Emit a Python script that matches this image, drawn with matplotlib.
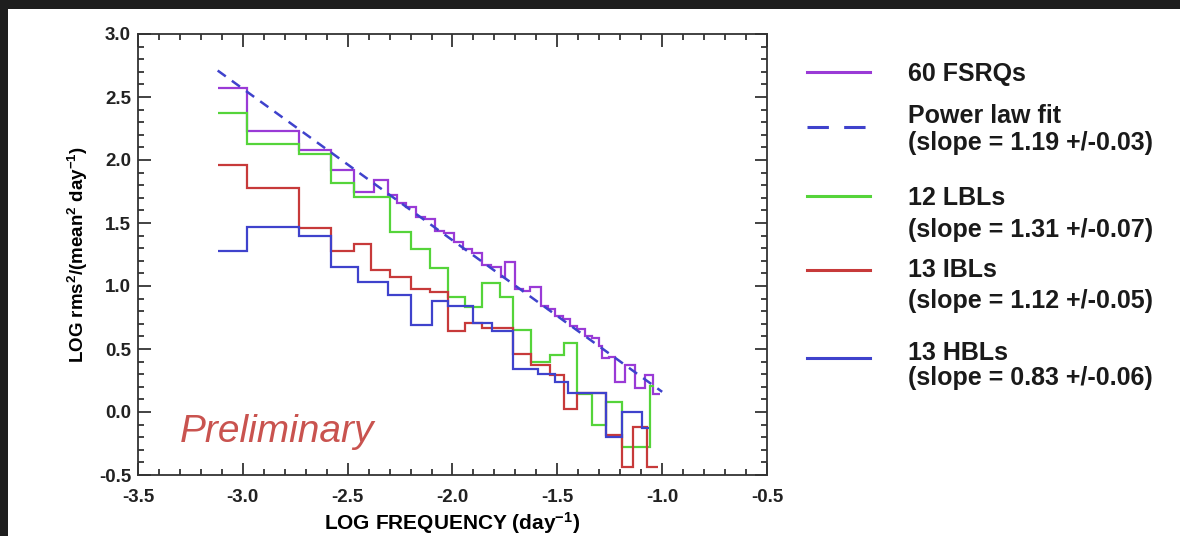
import matplotlib
matplotlib.use('Agg')
import matplotlib.pyplot as plt
from matplotlib.lines import Line2D
from matplotlib.patches import Rectangle
from matplotlib.ticker import MultipleLocator

plt.rcParams['font.family'] = ['Liberation Sans', 'DejaVu Sans']
plt.rcParams['mathtext.default'] = 'regular'

# step data: bin edges (log frequency) and log rms^2/mean^2 per bin
fsrq_edges = [-3.12, -2.98, -2.73, -2.58, -2.47, -2.375, -2.31, -2.265, -2.22, -2.175,
              -2.13, -2.085, -2.04, -1.995, -1.95, -1.905, -1.86, -1.815, -1.77, -1.75,
              -1.70, -1.665, -1.63, -1.58, -1.545, -1.51, -1.475, -1.44, -1.405, -1.37,
              -1.335, -1.30, -1.285, -1.255, -1.225, -1.175, -1.13, -1.08, -1.045, -1.01]
fsrq_vals = [2.57, 2.23, 2.08, 1.92, 1.75, 1.84, 1.72, 1.66, 1.63, 1.55,
             1.53, 1.44, 1.42, 1.35, 1.29, 1.26, 1.17, 1.15, 1.07, 1.19,
             0.98, 0.96, 0.99, 0.84, 0.82, 0.76, 0.74, 0.68, 0.66, 0.60,
             0.59, 0.52, 0.43, 0.44, 0.24, 0.37, 0.19, 0.29, 0.14]

lbl_edges = [-3.12, -2.98, -2.73, -2.58, -2.47, -2.30, -2.20, -2.105, -2.02, -1.94, -1.86,
             -1.775, -1.71, -1.625, -1.535, -1.47, -1.405, -1.335, -1.27, -1.19, -1.06, -1.04]
lbl_vals = [2.37, 2.13, 2.05, 1.82, 1.71, 1.43, 1.29, 1.14, 0.91, 0.83, 1.02,
            0.91, 0.65, 0.40, 0.45, 0.55, 0.14, -0.10, 0.08, -0.28, 0.21]

ibl_edges = [-3.12, -2.98, -2.73, -2.58, -2.47, -2.39, -2.30, -2.20, -2.105, -2.02, -1.94,
             -1.86, -1.71, -1.625, -1.535, -1.47, -1.405, -1.27, -1.19, -1.14, -1.07, -1.02]
ibl_vals = [1.96, 1.78, 1.46, 1.28, 1.33, 1.13, 1.07, 0.98, 0.95, 0.64, 0.71,
            0.67, 0.46, 0.37, 0.29, 0.02, 0.15, -0.18, -0.44, -0.12, -0.44]

hbl_edges = [-3.12, -2.98, -2.73, -2.58, -2.45, -2.31, -2.20, -2.10, -2.02, -1.90,
             -1.81, -1.71, -1.59, -1.51, -1.45, -1.27, -1.19, -1.095, -1.065]
hbl_vals = [1.28, 1.47, 1.40, 1.15, 1.03, 0.93, 0.69, 0.88, 0.84,
            0.71, 0.64, 0.34, 0.30, 0.24, 0.15, -0.20, 0.00, -0.13]

# power law fit end points
fit_x = [-3.12, -1.0]
fit_y = [2.71, 0.16]

purple = '#9a3ad6'
green = '#55d43a'
red = '#c73a3a'
blue = '#3f42cc'

W, H = 1180, 536
fig = plt.figure(figsize=(W / 100, H / 100), dpi=100, facecolor='#1e1e1e')
# white panel
fig.add_artist(Rectangle((8 / W, 0), 1 - 8 / W, 1 - 9 / H, transform=fig.transFigure,
                         facecolor='white', edgecolor='none', zorder=-5))

ax = fig.add_axes([138 / W, 1 - 475 / H, (767 - 138) / W, (475 - 34) / H])
ax.set_facecolor('white')

lw = 1.6
ax.stairs(fsrq_vals, fsrq_edges, baseline=None, color=purple, lw=lw)
ax.stairs(lbl_vals, lbl_edges, baseline=None, color=green, lw=lw)
ax.stairs(ibl_vals, ibl_edges, baseline=None, color=red, lw=lw)
ax.stairs(hbl_vals, hbl_edges, baseline=None, color=blue, lw=lw)
ax.plot(fit_x, fit_y, color=blue, lw=1.8, dashes=(4, 3))

ax.set_xlim(-3.5, -0.5)
ax.set_ylim(-0.5, 3.0)
ax.xaxis.set_major_locator(MultipleLocator(0.5))
ax.xaxis.set_minor_locator(MultipleLocator(0.1))
ax.yaxis.set_major_locator(MultipleLocator(0.5))
ax.yaxis.set_minor_locator(MultipleLocator(0.1))
ax.xaxis.set_major_formatter(lambda v, p: f'{v:.1f}')
ax.yaxis.set_major_formatter(lambda v, p: f'{v:.1f}')
ax.tick_params(which='both', direction='in', top=True, right=True, width=1.2, colors='#222222')
ax.tick_params(which='major', length=9, labelsize=13.5)
ax.tick_params(axis='x', which='major', pad=10)
ax.tick_params(axis='y', which='major', pad=5)
ax.tick_params(which='minor', length=4.5)
for t in ax.get_xticklabels() + ax.get_yticklabels():
    t.set_fontweight('bold')
for s in ax.spines.values():
    s.set_linewidth(1.3)
    s.set_color('#333333')

ax.set_xlabel('LOG FREQUENCY (day$^{-1}$)', fontsize=15, fontweight='bold', labelpad=3)
ax.set_ylabel('LOG rms$^2$/(mean$^2$ day$^{-1}$)', fontsize=13.5, fontweight='bold', labelpad=6)

ax.text(-3.3, -0.16, 'Preliminary', color='#c9534f', fontsize=28, style='italic',
        ha='left', va='center')

# legend drawn at the right of the figure
def fx(x):
    return x / W

def fy(y):
    return 1 - y / H

leg = [
    (purple, '-', 72, [('60 FSRQs', 74)]),
    (blue, '--', 127, [('Power law fit', 116), ('(slope = 1.19 +/-0.03)', 143)]),
    (green, '-', 196, [('12 LBLs', 198), ('(slope = 1.31 +/-0.07)', 230)]),
    (red, '-', 270, [('13 IBLs', 270), ('(slope = 1.12 +/-0.05)', 301)]),
    (blue, '-', 358, [('13 HBLs', 353), ('(slope = 0.83 +/-0.06)', 378)]),
]
for col, ls, ly, texts in leg:
    line = Line2D([fx(807), fx(870)], [fy(ly), fy(ly)], color=col, lw=2.2,
                  transform=fig.transFigure)
    if ls == '--':
        line.set_dashes((7, 5))
    fig.add_artist(line)
    for txt, ty in texts:
        fig.text(fx(908), fy(ty), txt, fontsize=18, fontweight='bold', color='#1a1a1a',
                 ha='left', va='center')

fig.savefig('out.png', dpi=100, facecolor=fig.get_facecolor())
